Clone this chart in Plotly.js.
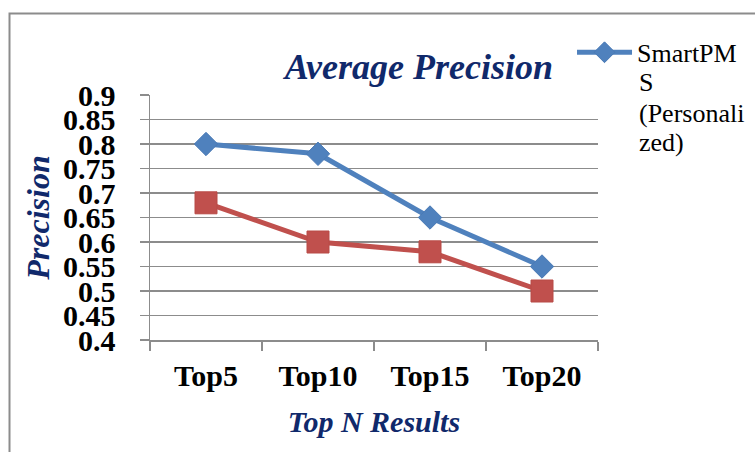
<!DOCTYPE html>
<html>
<head>
<meta charset="utf-8">
<script src="https://cdn.plot.ly/plotly-3.0.1.min.js"></script>
<style>html,body{margin:0;padding:0;background:#fff;}#chart{width:755px;height:452px;}</style>
</head>
<body>
<div id="chart"></div>
<script>
const categories = ["Top5", "Top10", "Top15", "Top20"];
const smartPMS = [0.80, 0.78, 0.65, 0.55];
const secondSeries = [0.68, 0.60, 0.58, 0.50];
const seriesName = "SmartPM";
const legendLines = ["S", "(Personali", "zed)"];
const yTicks = [0.4, 0.45, 0.5, 0.55, 0.6, 0.65, 0.7, 0.75, 0.8, 0.85, 0.9];
const yTickText = ["0.4", "0.45", "0.5", "0.55", "0.6", "0.65", "0.7", "0.75", "0.8", "0.85", "0.9"];

const serif = "Liberation Serif, Times New Roman, serif";
const navy = "#10296B";
const grid = "#8C8C8C";

const traces = [
  {
    x: categories, y: smartPMS, type: "scatter", mode: "lines+markers",
    name: seriesName,
    line: {color: "#4F81BD", width: 5},
    marker: {symbol: "diamond", size: 18, color: "#4F81BD", line: {color: "#4A7AB5", width: 1}}
  },
  {
    x: categories, y: secondSeries, type: "scatter", mode: "lines+markers",
    name: "Series 2", showlegend: false,
    line: {color: "#C0504D", width: 5},
    marker: {symbol: "square", size: 22, color: "#C0504D", line: {color: "#B84A47", width: 1}}
  }
];

const legendY = [1.053, 0.926, 0.806];
const annotations = legendLines.map((t, i) => ({
  text: t, xref: "paper", yref: "paper", x: 1.087, y: legendY[i],
  xanchor: "left", yanchor: "middle", showarrow: false,
  font: {family: serif, size: 26, color: "#000"}
}));

const layout = {
  width: 755, height: 452,
  margin: {l: 150, r: 157, t: 95, b: 112},
  paper_bgcolor: "#fff", plot_bgcolor: "#fff",
  title: {
    text: "Average Precision", xref: "paper", x: 0.6, xanchor: "center",
    yref: "container", y: 0.853, yanchor: "middle",
    font: {family: serif, size: 36, color: navy, weight: "bold", style: "italic"}
  },
  xaxis: {
    type: "category", range: [-0.5, 3.5], tickson: "boundaries",
    ticks: "outside", ticklen: 9, tickcolor: grid, tickwidth: 1.5,
    showgrid: false, showline: true, linecolor: grid, linewidth: 1.5,
    ticklabelstandoff: 8,
    tickfont: {family: serif, size: 30, color: "#000", weight: "bold"},
    title: {text: "Top N Results", standoff: 20,
      font: {family: serif, size: 30, color: navy, weight: "bold", style: "italic"}},
    fixedrange: true
  },
  yaxis: {
    range: [0.4, 0.9], tickvals: yTicks, ticktext: yTickText,
    ticks: "outside", ticklen: 9, tickcolor: grid, tickwidth: 1.5,
    showgrid: true, gridcolor: grid, gridwidth: 1.5,
    showline: true, linecolor: grid, linewidth: 1.5, zeroline: false,
    ticklabelstandoff: 18,
    tickfont: {family: serif, size: 30, color: "#000", weight: "bold"},
    title: {text: "Precision", standoff: 4,
      font: {family: serif, size: 32, color: navy, weight: "bold", style: "italic"}},
    fixedrange: true
  },
  showlegend: true,
  legend: {
    x: 0.942, xanchor: "left", y: 1.27, yanchor: "top",
    bgcolor: "rgba(0,0,0,0)", borderwidth: 0, itemwidth: 55,
    font: {family: serif, size: 26, color: "#000"}
  },
  annotations: annotations,
  shapes: [{
    type: "rect", xref: "paper", yref: "paper",
    x0: -0.3136, x1: 1.40, y0: -0.5, y1: 1.3327,
    line: {color: "#8C8C8C", width: 2}, fillcolor: "rgba(0,0,0,0)", layer: "below"
  }]
};

Plotly.newPlot("chart", traces, layout, {displayModeBar: false, staticPlot: true});
</script>
</body>
</html>
